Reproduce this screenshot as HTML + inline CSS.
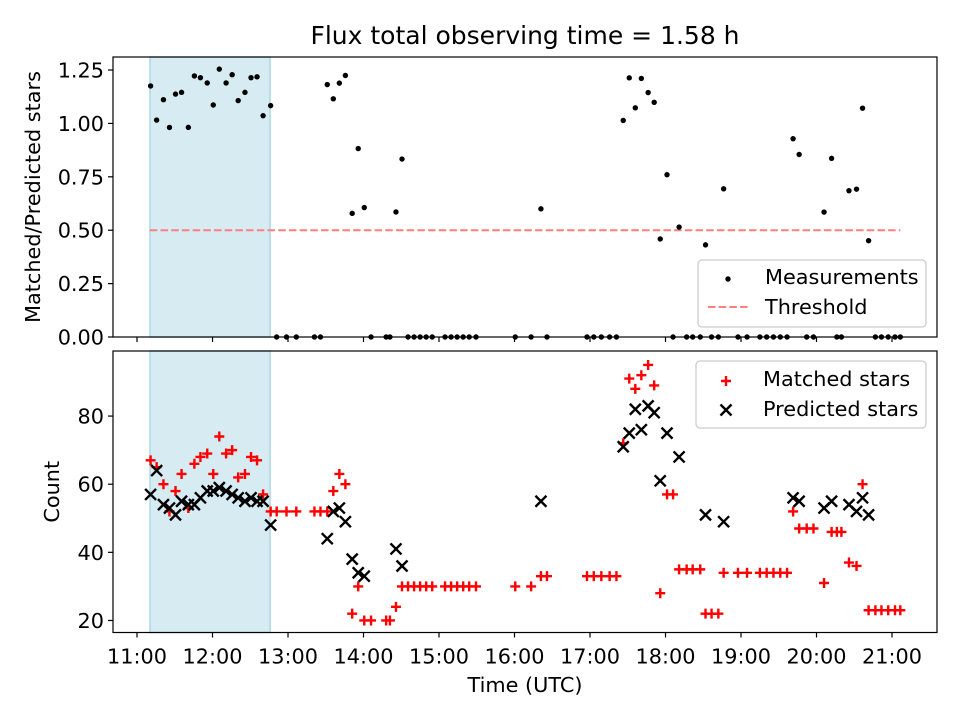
<!DOCTYPE html>
<html><head><meta charset="utf-8"><style>
body{margin:0;background:#fff}
svg{display:block;font-family:"DejaVu Sans","Liberation Sans",sans-serif}
</style></head><body>
<svg id="chart" width="960" height="720" viewBox="0 0 960 720">
<rect width="960" height="720" fill="#fff"/>
<text x="525" y="44" font-size="25" text-anchor="middle">Flux total observing time = 1.58 h</text>
<g id="topPanel"></g>
<g id="botPanel"></g>
</svg>
<script>
const times = [11.18,11.26,11.35,11.43,11.51,11.59,11.68,11.76,11.84,11.93,12.01,12.09,12.18,12.26,12.34,12.43,12.51,12.59,12.67,12.77,12.85,12.98,13.11,13.35,13.43,13.52,13.60,13.68,13.76,13.85,13.93,14.01,14.10,14.30,14.35,14.43,14.51,14.59,14.67,14.75,14.83,14.91,15.08,15.16,15.24,15.32,15.40,15.49,16.01,16.22,16.35,16.43,16.96,17.05,17.15,17.26,17.35,17.44,17.52,17.60,17.68,17.77,17.85,17.93,18.02,18.10,18.18,18.28,18.36,18.46,18.53,18.61,18.70,18.77,18.96,19.08,19.25,19.34,19.43,19.52,19.61,19.69,19.77,19.87,19.96,20.10,20.20,20.27,20.33,20.43,20.53,20.61,20.69,20.78,20.86,20.95,21.04,21.11];
const matched = [67,65,60,52,58,63,53,66,68,69,63,74,69,70,62,63,68,67,57,52,52,52,52,52,52,52,58,63,60,22,30,20,20,20,20,24,30,30,30,30,30,30,30,30,30,30,30,30,30,30,33,33,33,33,33,33,33,72,91,88,92,95,89,28,57,57,35,35,35,35,22,22,22,34,34,34,34,34,34,34,34,52,47,47,47,31,46,46,46,37,36,60,23,23,23,23,23,23];
const predicted = [57,64,54,53,51,55,54,54,56,58,58,59,58,57,56,55,56,55,55,48,null,null,null,null,null,44,52,53,49,38,34,33,null,null,null,41,36,null,null,null,null,null,null,null,null,null,null,null,null,null,55,null,null,null,null,null,null,71,75,82,76,83,81,61,75,null,68,null,null,null,51,null,null,49,null,null,null,null,null,null,null,56,55,null,null,53,55,null,null,54,52,56,51,null,null,null,null,null];
const xTicks = [11,12,13,14,15,16,17,18,19,20,21];
const xTickLabels = ["11:00","12:00","13:00","14:00","15:00","16:00","17:00","18:00","19:00","20:00","21:00"];
const topTicks = [0,0.25,0.5,0.75,1.0,1.25];
const topTickLabels = ["0.00","0.25","0.50","0.75","1.00","1.25"];
const botTicks = [20,40,60,80];
const threshold = [0.5];
const span = [11.172, 12.762];
const thrRange = [11.17, 21.11];

const NS="http://www.w3.org/2000/svg";
const FS=20.8;
function mk(p,tag,at){const e=document.createElementNS(NS,tag);for(const k in at)e.setAttribute(k,at[k]);p.appendChild(e);return e;}
const L=113,R=937;
const X=t=>L+(t-10.682)*(R-L)/(21.596-10.682);
const T={y0:57,y1:337,min:0,max:1.311};
const B={y0:351,y1:632.5,min:16.47,max:99.1};
const Yt=v=>T.y1-(v-T.min)*(T.y1-T.y0)/(T.max-T.min);
const Yb=v=>B.y1-(v-B.min)*(B.y1-B.y0)/(B.max-B.min);
const topG=document.getElementById('topPanel'),botG=document.getElementById('botPanel');

function frame(g,P,Y,ticks,labels,showX){
  const s=mk(g,'rect',{x:X(span[0]),y:P.y0,width:X(span[1])-X(span[0]),height:P.y1-P.y0,fill:'#add8e6','fill-opacity':0.5,stroke:'#add8e6','stroke-width':1.5});
  
  
  xTicks.forEach((t,i)=>{
    const tk=mk(g,'line',{x1:X(t),x2:X(t),y1:P.y1,y2:P.y1+5,stroke:'#000','stroke-width':1.2});
    
    
    if(showX){const tx=mk(g,'text',{x:X(t),y:P.y1+31,'font-size':FS,'text-anchor':'middle'});tx.textContent=xTickLabels[i];
      
      }
  });
  ticks.forEach((v,i)=>{
    const tk=mk(g,'line',{x1:L-5,x2:L,y1:Y(v),y2:Y(v),stroke:'#000','stroke-width':1.2});
    
    
    const tx=mk(g,'text',{x:L-9,y:Y(v)+7.5,'font-size':FS,'text-anchor':'end'});tx.textContent=labels[i];
    
    
  });
}
frame(topG,T,Yt,topTicks,topTickLabels,false);
frame(botG,B,Yb,botTicks,botTicks.map(String),true);

threshold.forEach(v=>{
  const l=mk(topG,'line',{x1:X(thrRange[0]),x2:X(thrRange[1]),y1:Yt(v),y2:Yt(v),stroke:'#ff7f7f','stroke-width':2,'stroke-dasharray':'7.5,3.2'});
  
  
});
times.forEach((t,i)=>{
  const r=predicted[i]?matched[i]/predicted[i]:0;
  const c=mk(topG,'circle',{cx:X(t),cy:Yt(r),r:2.7,fill:'#000'});
  
  
});
times.forEach((t,i)=>{
  const x=X(t),y=Yb(matched[i]);
  const p=mk(botG,'path',{d:`M${x-5},${y}H${x+5}M${x},${y-5}V${y+5}`,stroke:'#ff0000','stroke-width':2.4});
  
  
});
times.forEach((t,i)=>{
  if(predicted[i]==null)return;
  const x=X(t),y=Yb(predicted[i]),d=5.5;
  const p=mk(botG,'path',{d:`M${x-d},${y-d}L${x+d},${y+d}M${x-d},${y+d}L${x+d},${y-d}`,stroke:'#000','stroke-width':2.4});
  
  
});
[[topG,T],[botG,B]].forEach(([g,P])=>{
  const f=mk(g,'rect',{x:L,y:P.y0,width:R-L,height:P.y1-P.y0,fill:'none',stroke:'#000','stroke-width':1.2});
  
  
});
let t1=mk(topG,'text',{x:0,y:0,'font-size':FS,'text-anchor':'middle',transform:`translate(40,${(T.y0+T.y1)/2}) rotate(-90)`});t1.textContent='Matched/Predicted stars';


let t2=mk(botG,'text',{x:0,y:0,'font-size':FS,'text-anchor':'middle',transform:`translate(59,${(B.y0+B.y1)/2}) rotate(-90)`});t2.textContent='Count';


let t3=mk(botG,'text',{x:525,y:692,'font-size':FS,'text-anchor':'middle'});t3.textContent='Time (UTC)';



function legendBox(g,x,y,w,h){return mk(g,'rect',{x,y,width:w,height:h,rx:4,fill:'#fff','fill-opacity':0.8,stroke:'#cccccc','stroke-width':1.3});}
let lb1=legendBox(topG,698,260,228,67);


let lc=mk(topG,'circle',{cx:728,cy:279,r:2.7,fill:'#000'});


let lt=mk(topG,'text',{x:765,y:284,'font-size':FS});lt.textContent='Measurements';


let ll=mk(topG,'line',{x1:708,x2:748,y1:307,y2:307,stroke:'#ff7f7f','stroke-width':2,'stroke-dasharray':'7.5,3.2'});


let lt2=mk(topG,'text',{x:765,y:314,'font-size':FS});lt2.textContent='Threshold';



let lb2=legendBox(botG,696,361,230,67);


let lp=mk(botG,'path',{d:'M721,381H731M726,376V386',stroke:'#ff0000','stroke-width':2.4});


let lt3=mk(botG,'text',{x:763,y:386,'font-size':FS});lt3.textContent='Matched stars';


let lx=mk(botG,'path',{d:'M720.5,404.5L731.5,415.5M720.5,415.5L731.5,404.5',stroke:'#000','stroke-width':2.4});


let lt4=mk(botG,'text',{x:763,y:416,'font-size':FS});lt4.textContent='Predicted stars';


</script>
</body></html>
